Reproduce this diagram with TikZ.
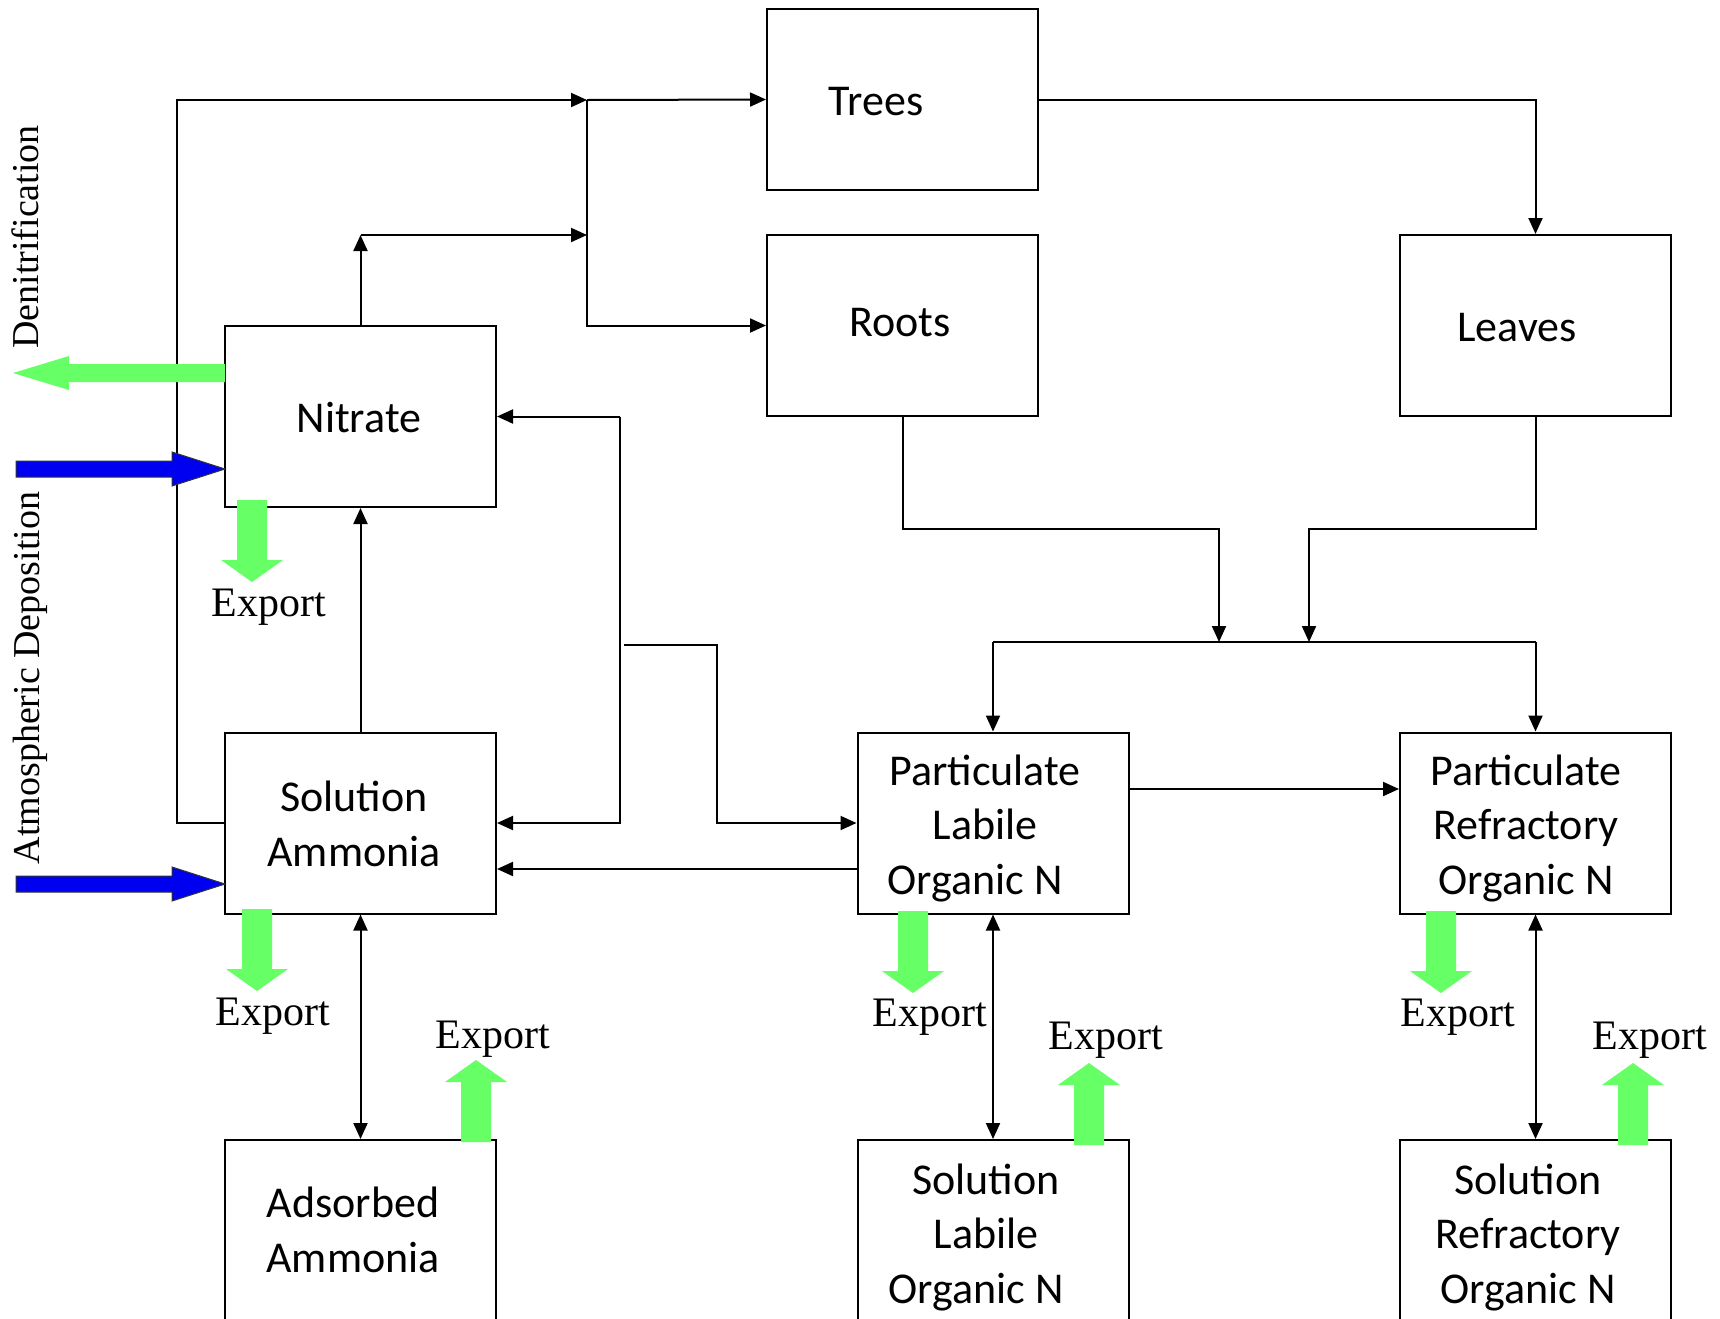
\documentclass[tikz,border=0pt]{standalone}
\usepackage{fontspec}
\setmainfont{Liberation Serif}
\newfontfamily\boxfont{Carlito}
\usetikzlibrary{arrows.meta,calc}
\definecolor{expgreen}{RGB}{102,255,102}
\definecolor{depblue}{RGB}{0,0,240}
\begin{document}
\begin{tikzpicture}[x=1pt,y=-1pt,
  box/.style={draw,line width=2pt,minimum width=271pt,minimum height=181pt,inner sep=0pt},
  btext/.style={font=\boxfont\fontsize{44}{54.5}\selectfont,align=center,anchor=base,inner sep=0pt},
  etext/.style={font=\fontsize{42}{50}\selectfont,anchor=base,inner sep=0pt},
  rtext/.style={font=\fontsize{38}{45}\selectfont,rotate=90,anchor=base,inner sep=0pt},
  conn/.style={line width=2pt},
  arr/.style={conn,-{Triangle[length=16pt,width=14pt]}},
  darr/.style={conn,{Triangle[length=16pt,width=14pt]}-{Triangle[length=16pt,width=14pt]}},
  bfill/.style={fill=depblue,draw=black!80,line width=1pt},
  gdown/.pic={\fill[expgreen] (-15,0) -- (15,0) -- (15,60) -- (31,60) -- (0,82) -- (-31,60) -- (-15,60) -- cycle;},
  gup/.pic={\fill[expgreen] (-15,0) -- (15,0) -- (15,-60) -- (31,-60) -- (0,-82) -- (-31,-60) -- (-15,-60) -- cycle;},
]
\useasboundingbox (0,0) rectangle (1720,1318);
\clip (0,0) rectangle (1720,1318);
\fill[white] (0,0) rectangle (1720,1318);

% boxes
\node[box] (trees)   at (902.5,99.5) {};
\node[box] (roots)   at (902.5,325.5) {};
\node[box] (leaves)  at (1535.5,325.5) {};
\node[box] (nitrate) at (360.5,416.5) {};
\node[box] (sa)      at (360.5,823) {};
\node[box] (ads)     at (360.5,1230.5) {};
\node[box] (plon)    at (993,823) {};
\node[box] (pron)    at (1535.5,823) {};
\node[box] (slon)    at (993,1230.5) {};
\node[box] (sron)    at (1535.5,1230.5) {};

% box texts (multi-line nodes are anchored at the baseline of their last line)
\node[btext] (ttrees) at (876,115) {Trees};
\node[btext] (troots) at (900,336) {Roots};
\node[btext] (tleaves) at (1517,341) {Leaves};
\node[btext] (tnitrate) at (359,432) {Nitrate};
\node[btext] (tsa) at (354,866) {Solution\\Ammonia};
\node[btext] (tads) at (353,1272) {Adsorbed\\Ammonia};
\node[btext] (tplon) at (985,894) {Particulate\\Labile\\Organic N\hspace*{20pt}};
\node[btext] (tpron) at (1526,894) {Particulate\\Refractory\\Organic N};
\node[btext] (tslon) at (986,1303) {Solution\\Labile\\Organic N\hspace*{20pt}};
\node[btext] (tsron) at (1528,1303) {Solution\\Refractory\\Organic N};

% connectors
\coordinate (jtop) at (587,100);
\coordinate (lc1) at (177,823);
\coordinate (lc2) at (177,100);
\draw[arr] (sa.west) -- (lc1) -- (lc2) -- (jtop);
\draw[arr] (jtop) -- (trees.west);
\draw[arr] (jtop) |- (roots.west);
\coordinate (nup) at (360.5,235);
\coordinate (jmid) at (587,235);
\draw[arr] (nitrate.north) -- (nup);
\draw[arr] (nup) -- (jmid);
\coordinate (rtop) at (620,416.5);
\draw[arr] (rtop) -- (nitrate.east);
\draw[arr] (rtop) |- (sa.east);
\coordinate (rmid) at (624,645);
\draw[arr] (rmid) -- (717,645) |- (plon.west);
\coordinate (pl2) at (857,869);
\draw[arr] (pl2) -- (sa.east |- pl2);
\draw[arr] (sa.north) -- (nitrate.south);
\draw[darr] (sa.south) -- (ads.north);
\coordinate (m1) at (1219,642);
\coordinate (m2) at (1309,642);
\draw[arr] (roots.south) |- (1219,529) -- (m1);
\draw[arr] (leaves.south) |- (1309,529) -- (m2);
\coordinate (bL) at (993,642);
\coordinate (bR) at (1535.5,642);
\draw[conn] (bL) -- (bR);
\draw[arr] (bL) -- (plon.north);
\draw[arr] (bR) -- (pron.north);
\draw[arr] (trees.east) -| (leaves.north);
\coordinate (pe) at (1129,789);
\draw[arr] (pe) -- (pron.west |- pe);
\draw[darr] (plon.south) -- (slon.north);
\draw[darr] (pron.south) -- (sron.north);

% denitrification arrow
\fill[expgreen] (225,364) -- (69,364) -- (69,356) -- (13,373) -- (69,390) -- (69,382) -- (225,382) -- cycle;
% atmospheric deposition arrows
\filldraw[bfill] (16,461) -- (172,461) -- (172,452) -- (225,469) -- (172,486) -- (172,477) -- (16,477) -- cycle;
\filldraw[bfill] (16,876) -- (172,876) -- (172,867) -- (225,884) -- (172,901) -- (172,892) -- (16,892) -- cycle;

% export arrows
\pic at (252,500) {gdown};
\pic at (257,909) {gdown};
\pic at (476,1142) {gup};
\pic at (913,911) {gdown};
\pic at (1089,1145) {gup};
\pic at (1441,911) {gdown};
\pic at (1633,1145) {gup};

% export labels
\node[etext] (e1) at (269,616) {Export};
\node[etext] (e2) at (273,1025) {Export};
\node[etext] (e3) at (493,1048) {Export};
\node[etext] (e4) at (930,1026) {Export};
\node[etext] (e5) at (1106,1049) {Export};
\node[etext] (e6) at (1458,1026) {Export};
\node[etext] (e7) at (1650,1049) {Export};

% side labels
\node[rtext] (denit) at (38,237) {Denitrification};
\node[rtext] (atmo) at (39,678) {Atmospheric Deposition};
\end{tikzpicture}
\end{document}
